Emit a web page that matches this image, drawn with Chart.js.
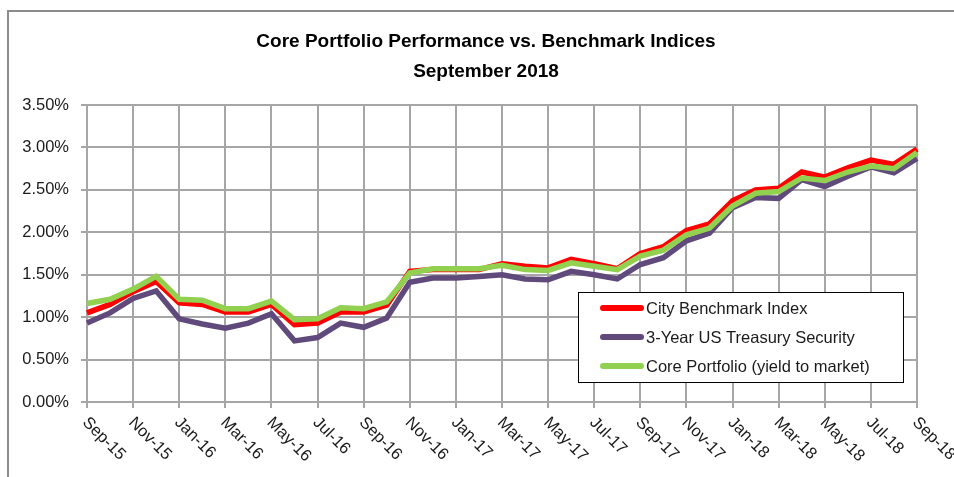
<!DOCTYPE html>
<html>
<head>
<meta charset="utf-8">
<script src="https://cdn.jsdelivr.net/npm/chart.js@4/dist/chart.umd.min.js"></script>
<style>
  html, body { margin: 0; padding: 0; background: #fff; }
  #wrap { position: relative; width: 954px; height: 477px; }
  canvas { display: block; }
</style>
</head>
<body>
<div id="wrap"><canvas id="c" width="954" height="477"></canvas></div>
<script>
const titleLines = ['Core Portfolio Performance vs. Benchmark Indices', 'September 2018'];

const months = ['Sep-15','Oct-15','Nov-15','Dec-15','Jan-16','Feb-16','Mar-16','Apr-16','May-16','Jun-16','Jul-16','Aug-16',
  'Sep-16','Oct-16','Nov-16','Dec-16','Jan-17','Feb-17','Mar-17','Apr-17','May-17','Jun-17','Jul-17','Aug-17',
  'Sep-17','Oct-17','Nov-17','Dec-17','Jan-18','Feb-18','Mar-18','Apr-18','May-18','Jun-18','Jul-18','Aug-18','Sep-18'];

const cityBenchmark = [1.05,1.15,1.30,1.42,1.17,1.15,1.06,1.06,1.15,0.91,0.93,1.06,
  1.06,1.14,1.54,1.56,1.56,1.56,1.63,1.60,1.58,1.68,1.63,1.57,
  1.75,1.83,2.02,2.10,2.37,2.50,2.52,2.71,2.65,2.76,2.85,2.80,2.98];

const treasury3y = [0.93,1.05,1.22,1.31,0.98,0.92,0.87,0.93,1.04,0.72,0.76,0.93,
  0.88,0.99,1.41,1.46,1.46,1.48,1.50,1.45,1.44,1.54,1.50,1.45,
  1.62,1.70,1.90,1.99,2.29,2.41,2.40,2.62,2.54,2.66,2.77,2.70,2.87];

const corePortfolio = [1.16,1.21,1.33,1.48,1.21,1.20,1.10,1.10,1.19,0.97,0.98,1.11,
  1.10,1.18,1.52,1.57,1.57,1.57,1.61,1.56,1.55,1.64,1.60,1.56,
  1.72,1.79,1.97,2.05,2.31,2.46,2.48,2.64,2.61,2.71,2.78,2.75,2.94];

const seriesNames = ['City Benchmark Index', '3-Year US Treasury Security', 'Core Portfolio (yield to market)'];
const yTicksMin = 0, yTicksMax = 3.5, yTicksStep = 0.5;

const FONT = 'Liberation Sans';
const GRID = '#a6a6a6';
const TEXT = '#1a1a1a';

const framePlugin = {
  id: 'frame',
  beforeDraw(chart) {
    const ctx = chart.ctx;
    ctx.save();
    ctx.fillStyle = '#fff';
    ctx.fillRect(0, 0, chart.width, chart.height);
    ctx.fillStyle = '#8c8c8c';
    ctx.fillRect(7, 10, chart.width, 2);
    ctx.fillRect(7, 10, 2, chart.height);
    ctx.restore();
  }
};

const decorPlugin = {
  id: 'decor',
  afterDraw(chart) {
    const ctx = chart.ctx;
    const area = chart.chartArea;
    const xs = chart.scales.x;
    ctx.save();
    // title
    ctx.fillStyle = '#000';
    ctx.font = 'bold 19px "' + FONT + '"';
    ctx.textAlign = 'center';
    ctx.textBaseline = 'middle';
    titleLines.forEach((t, i) => ctx.fillText(t, 486, 42 + i * 30));

    // rotated x labels, every second month
    ctx.font = '16.5px "' + FONT + '"';
    ctx.fillStyle = TEXT;
    ctx.textAlign = 'left';
    ctx.textBaseline = 'middle';
    months.forEach((m, i) => {
      if (i % 2 !== 0) return;
      const x = xs.getPixelForValue(i);
      ctx.save();
      ctx.translate(x - 2, area.bottom + 18);
      ctx.rotate(Math.PI / 4);
      ctx.fillText(m, 0, 0);
      ctx.restore();
    });

    // legend box
    const lw = 325, lh = 90;
    const lx = area.right - 14 - lw, ly = area.bottom - 20 - lh;
    ctx.fillStyle = '#fff';
    ctx.fillRect(lx, ly, lw, lh);
    ctx.strokeStyle = '#000';
    ctx.lineWidth = 1;
    ctx.strokeRect(Math.round(lx) + 0.5, Math.round(ly) + 0.5, lw, lh);
    chart.data.datasets.forEach((ds, i) => {
      const cy = ly + 16 + i * 29;
      ctx.beginPath();
      ctx.strokeStyle = ds.borderColor;
      ctx.lineWidth = 6;
      ctx.lineCap = 'round';
      ctx.moveTo(lx + 25, cy);
      ctx.lineTo(lx + 63, cy);
      ctx.stroke();
      ctx.fillStyle = TEXT;
      ctx.font = '16.5px "' + FONT + '"';
      ctx.textAlign = 'left';
      ctx.fillText(ds.label, lx + 68, cy + 1);
    });
    ctx.restore();
  }
};

new Chart(document.getElementById('c'), {
  type: 'line',
  data: {
    labels: months,
    datasets: [
      { label: seriesNames[0], data: cityBenchmark, borderColor: '#ff0000', backgroundColor: '#ff0000', order: 2 },
      { label: seriesNames[1], data: treasury3y, borderColor: '#604a7b', backgroundColor: '#604a7b', order: 1 },
      { label: seriesNames[2], data: corePortfolio, borderColor: '#92d050', backgroundColor: '#92d050', order: 0 }
    ]
  },
  options: {
    responsive: false,
    devicePixelRatio: 1,
    animation: false,
    elements: {
      line: { borderWidth: 5.5, tension: 0, borderJoinStyle: 'miter' },
      point: { radius: 0, hoverRadius: 0 }
    },
    layout: { padding: { top: 105, right: 37, left: 0, bottom: 0 } },
    plugins: {
      legend: { display: false },
      title: { display: false },
      tooltip: { enabled: false }
    },
    scales: {
      x: {
        type: 'category',
        offset: false,
        ticks: { display: false, autoSkip: false },
        grid: {
          color: c => (c.index % 2 === 0 ? GRID : 'rgba(0,0,0,0)'),
          tickColor: c => (c.index % 2 === 0 ? GRID : 'rgba(0,0,0,0)'),
          lineWidth: 2,
          tickLength: 6,
          drawTicks: true
        },
        border: { color: GRID, width: 2 },
        afterFit: s => { s.height = 75; }
      },
      y: {
        min: yTicksMin,
        max: yTicksMax,
        ticks: {
          stepSize: yTicksStep,
          padding: 12,
          color: TEXT,
          font: { family: FONT, size: 16.5 },
          callback: v => Number(v).toFixed(2) + '%'
        },
        grid: { color: GRID, lineWidth: 2, tickLength: 6, tickColor: GRID },
        border: { color: GRID, width: 2 },
        afterFit: s => { s.width = 87; }
      }
    }
  },
  plugins: [framePlugin, decorPlugin]
});
</script>
</body>
</html>
